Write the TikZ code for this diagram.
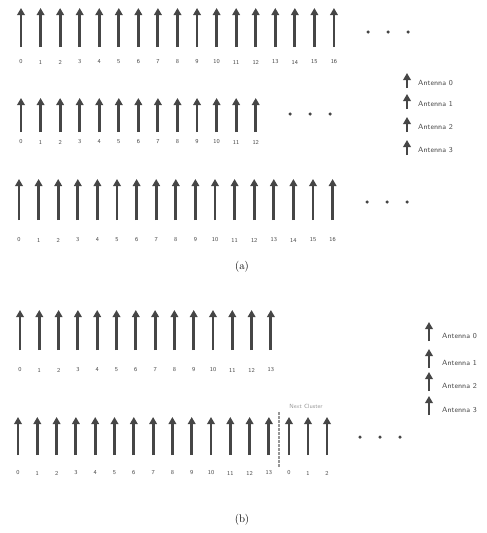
\documentclass[tikz,border=0pt]{standalone}
\usepackage{tikz}
\usetikzlibrary{positioning,arrows.meta}
\definecolor{antennacol}{RGB}{70,70,70}
\definecolor{labelcol}{RGB}{70,70,70}
\definecolor{clustercol}{RGB}{150,150,150}
\begin{document}
\begin{tikzpicture}[
                x=1pt, y=-1pt,
                font=\sffamily,
                >={Triangle[length=7pt, width=7.5pt]},
                ant/.style={->, line width=2.9pt, draw=antennacol},
                idx/.style={font=\sffamily\fontsize{6}{7}\selectfont, text=labelcol, inner sep=0pt},
                legtext/.style={font=\sffamily\fontsize{7.5}{8}\selectfont, text=labelcol, inner sep=0pt, anchor=west},
                dotmark/.style={circle, fill=antennacol, inner sep=0pt, minimum size=3.5pt},
                caption/.style={font=\rmfamily\fontsize{11}{13}\selectfont, inner sep=0pt},
                boundary/.style={line width=2pt, draw=clustercol, dash pattern=on 2.5pt off 1.5pt}
                ]
                \useasboundingbox (0,0) rectangle (487,533);

                % (a) first row, 17 antennas
                \foreach \i in {0,...,16} {
                    \node[idx] (ra\i) at ({21+19.56*\i},62) {\i};
                    \draw[ant] ({21+19.56*\i},47) -- ({21+19.56*\i},8);
                }
                \foreach \x [count=\k] in {368,388,408} \node[dotmark] (da\k) at (\x,32) {};

                % (a) second row, 13 antennas
                \foreach \i in {0,...,12} {
                    \node[idx] (rb\i) at ({21+19.56*\i},142) {\i};
                    \draw[ant] ({21+19.56*\i},132) -- ({21+19.56*\i},98);
                }
                \foreach \x [count=\k] in {290,310,330} \node[dotmark] (db\k) at (\x,114) {};

                % (a) third row, 17 antennas
                \foreach \i in {0,...,16} {
                    \node[idx] (rc\i) at ({19+19.6*\i},240) {\i};
                    \draw[ant] ({19+19.6*\i},220) -- ({19+19.6*\i},179);
                }
                \foreach \x [count=\k] in {367,387,407} \node[dotmark] (dc\k) at (\x,202) {};

                % legend (a)
                \foreach \y [count=\k from 0] in {83,104,127,150} {
                    \node[legtext] (lega\k) at (418,\y) {Antenna \k};
                    \draw[ant] (407,\y+5) -- (407,\y-10);
                }

                \node[caption] (capa) at (242,267) {(a)};

                % (b) first row, 14 antennas
                \foreach \i in {0,...,13} {
                    \node[idx] (rd\i) at ({20+19.3*\i},370) {\i};
                    \draw[ant] ({20+19.3*\i},350) -- ({20+19.3*\i},310);
                }

                % legend (b)
                \foreach \y [count=\k from 0] in {336,363,386,410} {
                    \node[legtext] (legb\k) at (442,\y) {Antenna \k};
                    \draw[ant] (429,\y+5) -- (429,\y-14);
                }

                % (b) second row, 14 antennas then next cluster
                \foreach \i in {0,...,13} {
                    \node[idx] (re\i) at ({18+19.3*\i},473) {\i};
                    \draw[ant] ({18+19.3*\i},455) -- ({18+19.3*\i},417);
                }
                \foreach \i/\x in {0/289,1/308,2/327} {
                    \node[idx] (rf\i) at (\x,473) {\i};
                    \draw[ant] (\x,455) -- (\x,417);
                }
                \coordinate (cut top) at (279,412);
                \coordinate (cut bot) at (279,468);
                \draw[boundary] (cut top) -- (cut bot);
                \node[idx, text=clustercol] (next) at (306,406) {Next Cluster};
                \foreach \x [count=\k] in {360,380,400} \node[dotmark] (df\k) at (\x,437) {};

                \node[caption] (capb) at (242,520) {(b)};
            \end{tikzpicture}
\end{document}
